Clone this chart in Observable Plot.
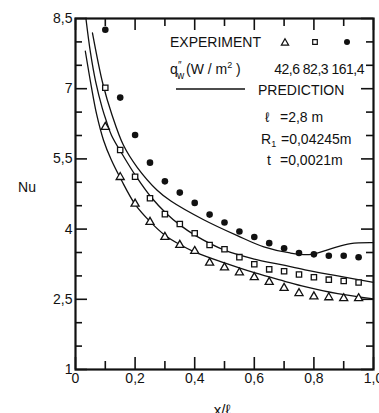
<!DOCTYPE html>
<html><head><meta charset="utf-8">
<script src="https://cdn.jsdelivr.net/npm/d3@7"></script>
<script src="https://cdn.jsdelivr.net/npm/@observablehq/plot@0.6"></script>
<style>body{margin:0;background:#fff} svg{display:block}</style>
</head><body><div id="chart"></div>
<script>
// ---- data ----
const xExp   = [0.1,0.15,0.2,0.25,0.3,0.35,0.4,0.45,0.5,0.55,0.6,0.65,0.7,0.75,0.8,0.85,0.9,0.95];
const nu42   = [6.18,5.11,4.54,4.15,3.83,3.66,3.53,3.28,3.18,3.07,2.97,2.87,2.74,2.63,2.56,2.54,2.52,2.52];
const nu82   = [7.02,5.69,5.12,4.66,4.32,4.11,3.91,3.66,3.57,3.40,3.25,3.14,3.10,3.03,2.97,2.92,2.89,2.86];
const nu161  = [8.26,6.81,6.01,5.42,5.02,4.78,4.56,4.31,4.14,3.95,3.83,3.70,3.59,3.49,3.46,3.43,3.43,3.40];

const predX42   = [0.033,0.053,0.071,0.094,0.12,0.153,0.2,0.252,0.3,0.35,0.4,0.5,0.6,0.7,0.77,0.88,1.0];
const predNu42  = [7.8,7.05,6.45,5.9,5.48,5.06,4.53,4.15,3.87,3.67,3.51,3.28,3.07,2.89,2.77,2.62,2.51];
const predX82   = [0.035,0.05,0.068,0.09,0.104,0.121,0.157,0.204,0.254,0.304,0.35,0.403,0.5,0.6,0.69,0.77,0.88,1.0];
const predNu82  = [8.5,7.78,7.14,6.58,6.3,6.0,5.6,5.12,4.68,4.34,4.09,3.86,3.55,3.36,3.24,3.13,3.0,2.86];
const predX161  = [0.057,0.092,0.122,0.161,0.207,0.274,0.32,0.43,0.543,0.632,0.72,0.79,0.856,0.923,1.0];
const predNu161 = [8.19,7.1,6.45,5.79,5.32,4.83,4.6,4.2,3.86,3.62,3.49,3.46,3.58,3.69,3.71];

const xTicks = [0,0.2,0.4,0.6,0.8,1.0];
const xTickLabels = ["0","0,2","0,4","0,6","0,8","1,0"];
const xMinorTicks = [0.1,0.3,0.5,0.7,0.9];
const yTicks = [1,2.5,4,5.5,7,8.5];
const yTickLabels = ["1","2,5","4","5,5","7","8,5"];
const yMinorTicks = [1.5,2,3,3.5,4.5,5,6,6.5,7.5,8];
const heatFlux = ["42,6","82,3","161,4"];

// ---- layout ----
const W = 379, H = 413, mL = 75, mR = 6, mT = 18, mB = 44;
const iW = W - mL - mR, iH = H - mT - mB;
const FONT = "Liberation Sans, Arial, sans-serif";

const toRows = (xs, ys) => xs.map((x, i) => ({x, y: ys[i]}));
const lineOpts = {x: "x", y: "y", curve: "catmull-rom", stroke: "#111", strokeWidth: 1.3};
const tk = 1.6;

const chart = Plot.plot({
  width: W, height: H,
  marginLeft: mL, marginRight: mR, marginTop: mT, marginBottom: mB,
  style: {fontFamily: FONT, fontSize: "14px", color: "#111", background: "#fff"},
  x: {domain: [0, 1]},
  y: {domain: [1, 8.5]},
  marks: [
    Plot.ruleX(xMinorTicks, {insetTop: iH - 8, strokeWidth: tk}),
    Plot.ruleX(xTicks, {insetTop: iH - 12, strokeWidth: tk}),
    Plot.ruleX(xMinorTicks, {insetBottom: iH - 8, strokeWidth: tk}),
    Plot.ruleX(xTicks, {insetBottom: iH - 12, strokeWidth: tk}),
    Plot.ruleY(yMinorTicks, {insetRight: iW - 7, strokeWidth: tk}),
    Plot.ruleY(yTicks, {insetRight: iW - 12, strokeWidth: tk}),
    Plot.ruleY(yMinorTicks, {insetLeft: iW - 7, strokeWidth: tk}),
    Plot.ruleY(yTicks, {insetLeft: iW - 12, strokeWidth: tk}),
    Plot.frame({stroke: "#111", strokeWidth: 2.2}),
    Plot.axisX(xTicks, {tickSize: 0, tickPadding: 4, fontSize: 14,
      tickFormat: d => xTickLabels[xTicks.indexOf(d)], label: null}),
    Plot.axisY(yTicks, {tickSize: 0, tickPadding: 3, fontSize: 14,
      tickFormat: d => yTickLabels[yTicks.indexOf(d)], label: null}),
    Plot.line(toRows(predX42, predNu42), lineOpts),
    Plot.line(toRows(predX82, predNu82), lineOpts),
    Plot.line(toRows(predX161, predNu161), lineOpts),
    Plot.dot(toRows(xExp, nu42), {x: "x", y: "y", symbol: "triangle", r: 3.0, stroke: "#111", fill: "#fff", strokeWidth: 1.3}),
    Plot.dot(toRows(xExp, nu82), {x: "x", y: "y", symbol: "square", r: 3.0, stroke: "#111", fill: "#fff", strokeWidth: 1.3}),
    Plot.dot(toRows(xExp, nu161), {x: "x", y: "y", symbol: "circle", r: 3.3, fill: "#111", stroke: "none"})
  ]
});
document.getElementById("chart").append(chart);

// ---- annotations / legend ----
const svg = d3.select(chart);
const g = svg.append("g").attr("font-family", FONT).attr("font-size", 14)
  .attr("fill", "#111").attr("text-anchor", "start");
const txt = (x, y, s, anchor = "start", size = 14) =>
  g.append("text").attr("x", x).attr("y", y).attr("text-anchor", anchor).attr("font-size", size).text(s);

txt(27, 192, "Nu", "middle");
txt(222, 415, "x/ℓ", "middle", 15);

txt(170, 47, "EXPERIMENT");
const sym = (type, r, x, y, filled) => g.append("path")
  .attr("d", d3.symbol().type(type).size(Math.PI * r * r)())
  .attr("transform", `translate(${x},${y})`)
  .attr("fill", filled ? "#111" : "#fff").attr("stroke", filled ? "none" : "#111").attr("stroke-width", 1.2);
sym(d3.symbolTriangle, 2.7, 285, 43, false);
sym(d3.symbolSquare, 2.6, 315, 42, false);
sym(d3.symbolCircle, 3.0, 347, 42, true);

txt(170, 74, "q");
txt(178, 69, "″", "start", 10);
txt(177, 79, "w", "start", 10);
const unit = g.append("text").attr("x", 186).attr("y", 74).attr("text-anchor", "start");
unit.append("tspan").text("(W / m");
unit.append("tspan").attr("font-size", 9).attr("dy", -6).text("2");
unit.append("tspan").attr("dy", 6).text(" )");
txt(364, 74, heatFlux.join(" "), "end", 14).attr("letter-spacing", -0.5);

g.append("line").attr("x1", 176).attr("x2", 245).attr("y1", 89).attr("y2", 89)
  .attr("stroke", "#111").attr("stroke-width", 1.3);
txt(258, 95, "PREDICTION");

txt(265, 122, "ℓ");
txt(280, 122, "=2,8 m");
const r1 = g.append("text").attr("x", 261).attr("y", 144).attr("text-anchor", "start");
r1.append("tspan").text("R");
r1.append("tspan").attr("font-size", 9).attr("dy", 3).text("1");
txt(281, 144, "=0,04245m");
txt(267, 165, "t");
txt(280, 165, "=0,0021m");
</script>
</body></html>
